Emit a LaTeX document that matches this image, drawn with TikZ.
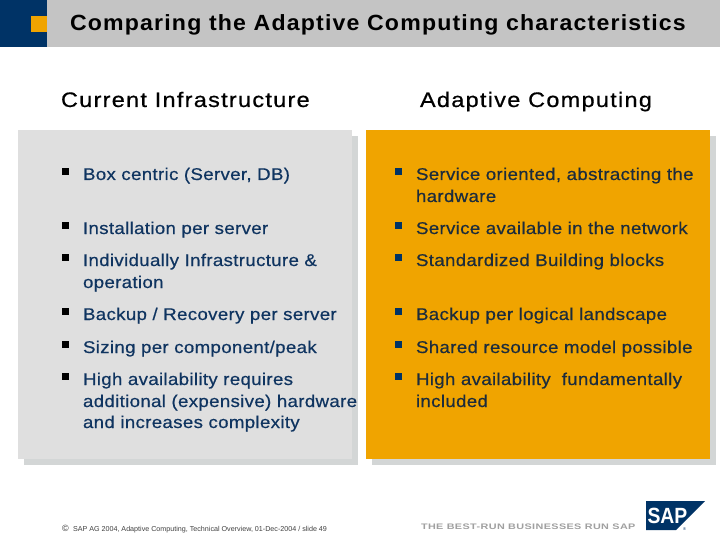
\documentclass[tikz,border=0pt]{standalone}
\usepackage{fontspec}
\setmainfont{Liberation Sans}
\newfontfamily\titlefont[LetterSpace=5.4,FakeStretch=1.05]{Liberation Sans}
\newfontfamily\headfont[LetterSpace=6,FakeStretch=1.12,FakeBold=0.6]{Liberation Sans}
\newfontfamily\bodyfont[LetterSpace=1.9,FakeStretch=1.1,FakeBold=0.5]{Liberation Sans}
\newfontfamily\tagfont[LetterSpace=5,FakeStretch=1.35]{Liberation Sans}
\newfontfamily\logofont[FakeStretch=0.88]{Liberation Sans}
\definecolor{sapnavy}{HTML}{003366}
\definecolor{sapgold}{HTML}{F0A400}
\definecolor{bargrey}{HTML}{C4C4C4}
\definecolor{panelgrey}{HTML}{DFDFDF}
\definecolor{shadowgrey}{HTML}{D3D6D6}
\definecolor{lefttext}{HTML}{0F3460}
\definecolor{righttext}{HTML}{1C2C3C}
\definecolor{taggrey}{HTML}{A0A0A0}
\tikzset{
  txt/.style={anchor=base west,inner sep=0pt,outer sep=0pt},
  titletext/.style={txt,font=\titlefont\bfseries\fontsize{22}{26}\selectfont,text=black},
  headtext/.style={txt,font=\headfont\fontsize{21}{25}\selectfont,text=black},
  ltext/.style={txt,font=\bodyfont\fontsize{17}{21.8}\selectfont,text=lefttext},
  rtext/.style={txt,font=\bodyfont\fontsize{17}{21.8}\selectfont,text=righttext},
  lbul/.style={fill=black,minimum size=7pt,inner sep=0pt,outer sep=0pt,anchor=center},
  rbul/.style={fill=sapnavy,minimum size=7pt,inner sep=0pt,outer sep=0pt,anchor=center},
}
\begin{document}
\begin{tikzpicture}[x=1pt,y=-1pt]
\useasboundingbox (0,0) rectangle (720,540);
\fill[white] (0,0) rectangle (720,540);
% title bar
\fill[bargrey] (47,0) rectangle (720,47);
\fill[sapnavy] (0,0) rectangle (47,47);
\fill[sapgold] (31,16) rectangle (47,32);
\node[titletext] (title) at (70,31) {Comparing the Adaptive Computing characteristics};
% headings
\node[headtext] (headL) at (61,107) {Current Infrastructure};
\node[headtext] (headR) at (420,107) {Adaptive Computing};
% panels
\fill[shadowgrey] (24,136) rectangle (358,465);
\fill[panelgrey] (18,130) rectangle (352,459);
\fill[shadowgrey] (372,136) rectangle (716,465);
\fill[sapgold] (366,130) rectangle (710,459);
% left bullets
\node[lbul] (lb1) at (65.5,171.5) {};
\node[lbul] (lb2) at (65.5,225.5) {};
\node[lbul] (lb3) at (65.5,257.5) {};
\node[lbul] (lb4) at (65.5,311.5) {};
\node[lbul] (lb5) at (65.5,344.5) {};
\node[lbul] (lb6) at (65.5,376.5) {};
\node[ltext] (l1) at (83,180) {Box centric (Server, DB)};
\node[ltext] (l2) at (83,234) {Installation per server};
\node[ltext] (l3a) at (83,266) {Individually Infrastructure \&};
\node[ltext] (l3b) at (83,288) {operation};
\node[ltext] (l4) at (83,320) {Backup / Recovery per server};
\node[ltext] (l5) at (83,353) {Sizing per component/peak};
\node[ltext] (l6a) at (83,385) {High availability requires};
\node[ltext] (l6b) at (83,407) {additional (expensive) hardware};
\node[ltext] (l6c) at (83,428) {and increases complexity};
% right bullets
\node[rbul] (rb1) at (398.5,171.5) {};
\node[rbul] (rb2) at (398.5,225.5) {};
\node[rbul] (rb3) at (398.5,257.5) {};
\node[rbul] (rb4) at (398.5,311.5) {};
\node[rbul] (rb5) at (398.5,344.5) {};
\node[rbul] (rb6) at (398.5,376.5) {};
\node[rtext] (r1a) at (416,180) {Service oriented, abstracting the};
\node[rtext] (r1b) at (416,202) {hardware};
\node[rtext] (r2) at (416,234) {Service available in the network};
\node[rtext] (r3) at (416,266) {Standardized Building blocks};
\node[rtext] (r4) at (416,320) {Backup per logical landscape};
\node[rtext] (r5) at (416,353) {Shared resource model possible};
\node[rtext] (r6a) at (416,385) {High availability\ \ fundamentally};
\node[rtext] (r6b) at (416,407) {included};
% footer
\node[txt,font=\fontsize{7.15}{9}\selectfont,text=black!75] (foot) at (73,531) {SAP AG 2004, Adaptive Computing, Technical Overview, 01-Dec-2004 / slide 49};
\node[txt,font=\fontsize{9}{10}\selectfont,text=black!80] (copy) at (62,531) {©};
\node[txt,font=\tagfont\bfseries\fontsize{8}{10}\selectfont,text=taggrey] (tag) at (421,529) {THE BEST-RUN BUSINESSES RUN SAP};
% logo
\fill[sapnavy] (646,501) -- (705,501) -- (676,530) -- (646,530) -- cycle;
\node[txt,font=\logofont\bfseries\fontsize{22}{24}\selectfont,text=white] (logo) at (647.5,523) {SAP};
\node[txt,font=\fontsize{4}{5}\selectfont,text=sapnavy] (reg) at (683,530) {®};
\end{tikzpicture}
\end{document}
